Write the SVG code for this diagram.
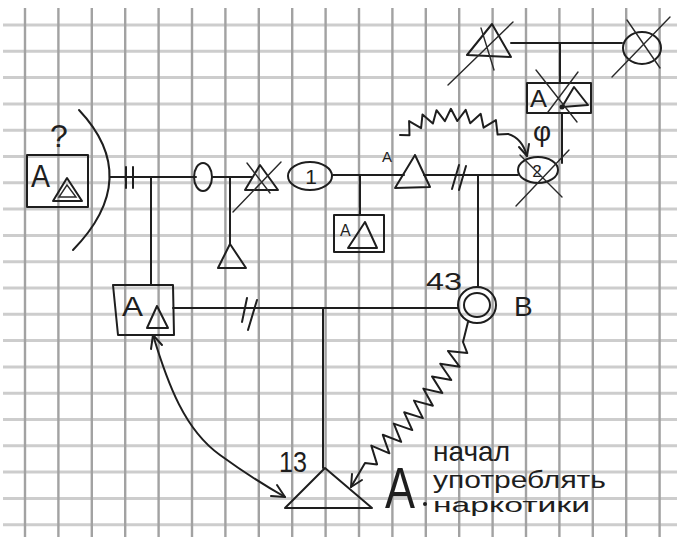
<svg xmlns="http://www.w3.org/2000/svg" width="677" height="537" viewBox="0 0 677 537">
  <style>
    .gh { stroke: #cdcdcd; stroke-width: 3; fill: none; }
    .gv { stroke: #a2a2a2; stroke-width: 2.4; fill: none; }
    .ln { stroke: #1e1e1e; stroke-width: 2; fill: none; stroke-linecap: round; stroke-linejoin: round; }
    .fine { stroke: #2a2a2a; stroke-width: 1.4; fill: none; stroke-linecap: round; }
    .hand { font-family: "Liberation Sans", "DejaVu Sans", sans-serif; fill: #1e1e1e; }
  </style>

  <rect width="677" height="537" fill="#ffffff"/>

  <!-- squared paper -->
  <g id="grid">
    <path class="gh" d="M3 25H677 M3 51.3H677 M3 77.6H677 M3 103.9H677 M3 130.2H677 M3 156.5H677 M3 182.8H677 M3 209.1H677 M3 235.4H677 M3 261.7H677 M3 288H677 M3 314.3H677 M3 340.6H677 M3 366.9H677 M3 393.2H677 M3 419.5H677 M3 445.8H677 M3 472.1H677 M3 498.4H677 M3 524.7H677"/>
    <path class="gv" d="M25 8V537 M58.4 8V537 M91.8 8V537 M125.2 8V537 M158.6 8V537 M192 8V537 M225.4 8V537 M258.8 8V537 M292.2 8V537 M325.6 8V537 M359 8V537 M392.4 8V537 M425.8 8V537 M459.2 8V537 M492.6 8V537 M526 8V537 M559.4 8V537 M592.8 8V537 M626.2 8V537 M659.6 8V537"/>
  </g>

  <!-- family lines and relationship links -->
  <g id="connectors">
    <path class="ln" d="M110 177H196"/>
    <path class="ln" d="M126 167V188 M133 167V188"/>
    <path class="ln" d="M151 177V285"/>
    <path class="ln" d="M213 177H252"/>
    <path class="ln" d="M230 177V245"/>
    <path class="ln" d="M333 175H404"/>
    <path class="ln" d="M360 175V215"/>
    <path class="ln" d="M424 175H518"/>
    <path class="ln" d="M452 189L459 165 M459 190L466 166"/>
    <path class="ln" d="M478 175V287"/>
    <path class="ln" d="M173 308H458"/>
    <path class="ln" d="M242 322L247 298 M248 330L257 300"/>
    <path class="ln" d="M323 308V468"/>
    <path class="ln" d="M511 43H622"/>
    <path class="ln" d="M560 44V83"/>
    <path class="ln" d="M562 113V163"/>
    <!-- hostile link B to 13 -->
    <polyline class="ln" points="468,322 463,342 467.3,353.1 447.9,351 459.6,366.7 440.2,363.8 451.3,380 432,376.4 442.4,393 423.3,388.6 432.9,405.7 414,400.6 422.9,418.1 404.2,412.3 412.3,430.1 393.8,423.6 401.2,441.9 382.8,434.8 389.4,453.3 371.3,445.6 377.1,464.4 365,463 351,487"/>
    <path class="ln" d="M362 480L351 487L352 474"/>
    <!-- hostile link from the upper triangle to circle 2 -->
    <polyline class="ln" points="400,135 409.5,135.2 409.1,121.1 421.1,128.1 422.5,114.4 432.9,123.5 436.5,110.2 444.9,121.1 450.9,108.8 457.3,121 465.7,109.9 470.2,123.2 480.7,113.8 483.6,127.7 495.9,120.1 497.6,134.6 508,134"/>
    <path class="ln" d="M508 134Q522 138 527 156"/>
    <path class="ln" d="M519 147L527 156L529 144"/>
    <!-- close two-way link between box and 13 -->
    <path class="ln" d="M153 335C168 385 185 430 220 455C242 471 262 484 285 497"/>
    <path class="ln" d="M151 349L153 335L162 345"/>
    <path class="ln" d="M277 485L285 497L271 496"/>
  </g>

  <g id="nodes">
    <g id="person-left">
      <rect class="ln" x="27" y="155" width="61" height="52"/>
      <text class="hand" x="31" y="187" font-size="32" textLength="19" lengthAdjust="spacingAndGlyphs">A</text>
      <path class="ln" d="M67 178L53 201H82Z"/>
      <path class="fine" d="M67 185L59 197H76Z"/>
      <text class="hand" x="50" y="147" font-size="32">?</text>
    </g>

    <g id="partner-arc">
      <path class="ln" d="M79 110Q143 178 73 250"/>
    </g>

    <g id="person-0">
      <ellipse class="ln" cx="203" cy="177" rx="9" ry="14"/>
    </g>

    <g id="person-crossed-mid">
      <path class="ln" d="M260 165L245 190H278Z"/>
      <path class="fine" d="M247 163L270 193 M281 162L233 212"/>
    </g>

    <g id="child-triangle">
      <path class="ln" d="M230 244L218 268H246Z"/>
    </g>

    <g id="person-1">
      <ellipse class="ln" cx="310" cy="176" rx="22" ry="14"/>
      <text class="hand" x="311" y="184" font-size="21" text-anchor="middle">1</text>
    </g>

    <g id="box-under-1">
      <rect class="ln" x="334" y="215" width="50" height="37"/>
      <text class="hand" x="340" y="236" font-size="16">A</text>
      <path class="ln" d="M365 222L348 248H377Z"/>
    </g>

    <g id="triangle-a">
      <path class="ln" d="M415 155L395 188L430 187Z"/>
      <text class="hand" x="382" y="162" font-size="15">A</text>
    </g>

    <g id="person-2">
      <ellipse class="ln" cx="538" cy="170" rx="20" ry="13"/>
      <text class="hand" x="537" y="177" font-size="17" text-anchor="middle">2</text>
      <path class="fine" d="M516 206L569 150 M520 155L562 197"/>
    </g>

    <g id="box-top">
      <rect class="ln" x="527" y="83" width="64" height="30"/>
      <text class="hand" x="530" y="107" font-size="24" textLength="17" lengthAdjust="spacingAndGlyphs">A</text>
      <path class="ln" d="M574 87L562 107L588 105Z"/>
      <path class="fine" d="M536 70L577 122 M578 72L548 112"/>
      <circle cx="562" cy="107" r="2.5" fill="#1e1e1e"/>
      <text class="hand" x="542" y="141" font-size="28" text-anchor="middle">φ</text>
    </g>

    <g id="crossed-triangle-top">
      <path class="ln" d="M492 24L467 55L511 57Z"/>
      <path class="fine" d="M448 85L513 22 M481 28L494 70"/>
    </g>

    <g id="crossed-circle-top">
      <ellipse class="ln" cx="642" cy="48" rx="19" ry="16"/>
      <path class="fine" d="M612 77L670 17 M627 20L660 68"/>
    </g>

    <g id="box-mid-left">
      <path class="ln" d="M113 285L173 285L174 335L118 335Z"/>
      <text class="hand" x="122" y="316" font-size="27" textLength="21" lengthAdjust="spacingAndGlyphs">A</text>
      <path class="ln" d="M157 306L147 328H168Z"/>
    </g>

    <g id="person-b">
      <ellipse class="ln" cx="477" cy="305" rx="19" ry="18"/>
      <ellipse class="ln" cx="477" cy="305" rx="13" ry="12"/>
      <text class="hand" x="426" y="290" font-size="24" textLength="36" lengthAdjust="spacingAndGlyphs">43</text>
      <text class="hand" x="514" y="316" font-size="28">B</text>
    </g>

    <g id="person-13">
      <path class="ln" d="M325 468L285 508H372Z"/>
      <text class="hand" x="279" y="472" font-size="30" textLength="28" lengthAdjust="spacingAndGlyphs">13</text>
      <text class="hand" x="385" y="508" font-size="58" textLength="30" lengthAdjust="spacingAndGlyphs">A</text>
      <circle cx="425" cy="504" r="2" fill="#1e1e1e"/>
      <!-- three-line note -->
      <text class="hand" x="433" y="461" font-size="28" textLength="77" lengthAdjust="spacingAndGlyphs">начал</text>
      <text class="hand" x="433" y="488" font-size="23" textLength="173" lengthAdjust="spacingAndGlyphs">употреблять</text>
      <text class="hand" x="433" y="512" font-size="21" textLength="157" lengthAdjust="spacingAndGlyphs">наркотики</text>
    </g>
  </g>
</svg>
